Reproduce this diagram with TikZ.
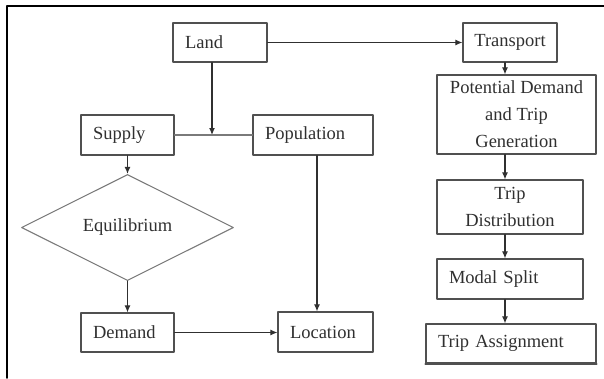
\documentclass[tikz,border=0pt]{standalone}
\usepackage{fontspec}
\setmainfont{Liberation Serif}
\usepackage{xcolor}
\usepackage{tikz}
\usetikzlibrary{shapes.geometric,arrows.meta}
\tikzset{>={Latex[length=7pt,width=6pt]}}
\definecolor{boxgray}{HTML}{505050}
\definecolor{lightgray2}{HTML}{7A7A7A}
\definecolor{inkgray}{HTML}{303030}

\begin{document}
\begin{tikzpicture}[x=1pt,y=-1pt,line cap=round,line join=round,
	every node/.style={font=\fontsize{18.5}{27}\selectfont,text=inkgray},
	blk/.style={draw=boxgray,line width=1.2pt,rectangle,inner xsep=12pt,inner ysep=0pt,align=left},
	cblk/.style={draw=boxgray,line width=1.2pt,rectangle,inner xsep=3pt,inner ysep=0pt,align=center},
	decision/.style={draw=lightgray2,line width=1.1pt,diamond,inner sep=0pt,minimum width=212pt,minimum height=91pt},
	conn/.style={draw=inkgray,line width=1.1pt}]
			\useasboundingbox (0,0) rectangle (604,378);
			\draw[line width=1.6pt,black] (7,378) -- (7,6) -- (604,6);
			% left part
			\node[blk,text width=70pt,minimum height=39pt] (land) at (220,42.5) {Land};
			\node[blk,text width=69pt,minimum height=40pt] (supply) at (127.5,135) {Supply};
			\node[blk,text width=96pt,minimum height=40pt] (population) at (313,135) {Population};
			\node[decision] (equil) at (127.5,227.5) {Equilibrium};
			\node[blk,text width=69pt,minimum height=39pt] (demand) at (127.5,332.5) {Demand};
			\node[blk,text width=71pt,minimum height=40pt] (location) at (325.5,332) {Location};
			% transport chain
			\node[cblk,text width=88pt,minimum height=39pt] (transport) at (510,42.5) {Transport};
			\node[cblk,minimum width=159pt,minimum height=79pt] (potential) at (516.5,114.5) {Potential Demand\\and Trip\\Generation};
			\node[cblk,minimum width=146pt,minimum height=54pt] (tripdist) at (510,207) {Trip\\Distribution};
			\node[blk,text width=122pt,minimum height=40pt] (modal) at (510,279) {Modal Split};
			\node[blk,text width=146pt,minimum height=39pt] (assign) at (511,343.5) {Trip Assignment};
			\draw[line width=2pt,boxgray] (assign.south west) -- (assign.south east);
			\coordinate (meet) at (212,135);
			\coordinate (popx) at (317,0);
			\coordinate (col) at (505,0);
			% connectors
			\draw[conn,->] (land.east) -- (land.east -| transport.west);
			\draw[conn,->] (land.south -| meet) -- (meet);
			\draw[conn,draw=lightgray2] (supply.east) -- (population.west);
			\draw[conn,->] (supply.south) -- (equil.north);
			\draw[conn,->] (equil.south) -- (demand.north);
			\draw[conn,->] (population.south -| popx) -- (location.north -| popx);
			\draw[conn,->] (demand.east) -- (demand.east -| location.west);
			\draw[conn,->] (transport.south -| col) -- (potential.north -| col);
			\draw[conn,->] (potential.south -| col) -- (tripdist.north -| col);
			\draw[conn,->] (tripdist.south -| col) -- (modal.north -| col);
			\draw[conn,->] (modal.south -| col) -- (assign.north -| col);
\end{tikzpicture}
\end{document}
